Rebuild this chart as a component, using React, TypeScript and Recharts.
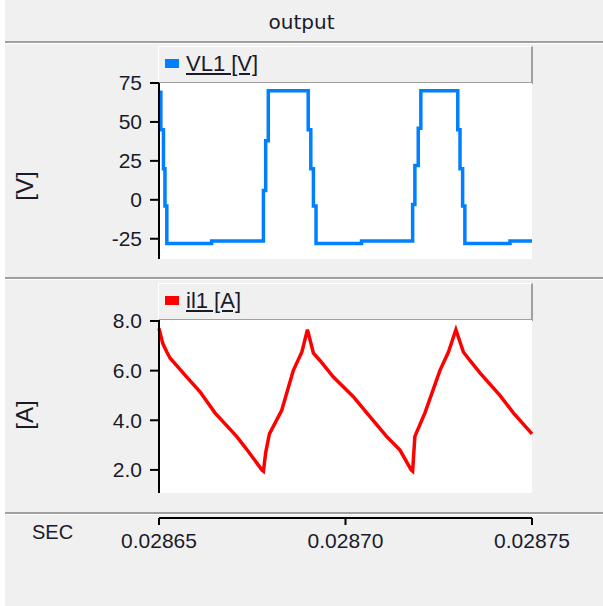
import { CartesianGrid, Line, LineChart, XAxis, YAxis } from "recharts"

// time in microseconds (label shows seconds)
const vlTime = [
  28650.0, 28650.5, 28651.2, 28651.6, 28652.1, 28664.1, 28678.0, 28678.6, 28679.3, 28690.0, 28690.7, 28691.4,
  28692.1, 28704.3, 28718.0, 28718.6, 28719.5, 28720.2, 28730.1, 28730.7, 28731.4, 28732.0, 28744.1, 28750.0,
]
const vlValue = [69, 45, 20, -4, -28, -26.5, 6, 38, 70, 45, 20, -4, -28, -26.5, -3, 22, 46, 70, 45, 20, -4, -28, -26.5, -26.5]

const ilTime = [
  28650.0, 28651.0, 28652.1, 28653.0, 28657.4, 28661.0, 28665.0, 28670.8, 28673.9, 28677.6, 28678.0, 28678.6,
  28679.6, 28682.9, 28686.0, 28688.3, 28689.8, 28691.4, 28693.2, 28696.7, 28702.1, 28705.7, 28711.0, 28714.6,
  28717.6, 28718.0, 28718.6, 28721.3, 28725.3, 28727.6, 28729.6, 28731.6, 28733.4, 28736.1, 28741.4, 28745.0,
  28750.0,
]
const ilValue = [
  7.7, 7.1, 6.75, 6.5, 5.75, 5.15, 4.3, 3.35, 2.75, 2.0, 1.95, 2.7, 3.45, 4.4, 6.0, 6.75, 7.65, 6.7, 6.4, 5.75,
  4.95, 4.3, 3.35, 2.8, 2.0, 1.95, 3.35, 4.3, 6.0, 6.75, 7.65, 6.75, 6.4, 5.9, 5.0, 4.3, 3.45,
]

const xTicks = [28650, 28700, 28750]
const vTicks = [-25, 0, 25, 50, 75]
const aTicks = [2, 4, 6, 8]

const vlData = vlTime.map((t, i) => ({ t, v: vlValue[i] }))
const ilData = ilTime.map((t, i) => ({ t, v: ilValue[i] }))

const FONT = "'Liberation Sans', Arial, sans-serif"
const tickStyle = { fontFamily: FONT, fontSize: 21, fill: "#1a1a2a" }
const fmtTime = (v: number) => (v / 1e6).toFixed(5)

function Separator({ top }: { top: number }) {
  return (
    <div style={{ position: "absolute", left: 5, right: 0, top, height: 2, background: "#a0a0a0", borderBottom: "1px solid #fff" }} />
  )
}

function LegendBox({ top, color, label }: { top: number; color: string; label: string }) {
  return (
    <div
      style={{
        position: "absolute",
        left: 158,
        top,
        width: 372,
        height: 35,
        background: "#f0f0f0",
        borderTop: "1px solid #fff",
        borderLeft: "1px solid #fff",
        borderRight: "2px solid #a0a0a0",
        borderBottom: "2px solid #a0a0a0",
      }}
    >
      <div style={{ position: "absolute", left: 6, top: 12, width: 14, height: 9, background: color }} />
      <div
        style={{
          position: "absolute",
          left: 27,
          top: 4,
          fontFamily: FONT,
          fontSize: 22,
          lineHeight: "26px",
          color: "#1a1a2a",
          textDecoration: "underline",
        }}
      >
        {label}
      </div>
    </div>
  )
}

function SideLabel({ top, text }: { top: number; text: string }) {
  return (
    <div
      style={{
        position: "absolute",
        left: 25,
        top,
        transform: "translate(-50%, -50%) rotate(-90deg)",
        fontFamily: FONT,
        fontSize: 24,
        color: "#1a1a2a",
        whiteSpace: "nowrap",
      }}
    >
      {text}
    </div>
  )
}

export default function App() {
  return (
    <div style={{ position: "absolute", left: 0, top: 0, width: 603, height: 606, background: "#fff" }}>
      <div style={{ position: "absolute", left: 5, top: 0, right: 0, bottom: 0, background: "#f0f0f0" }} />
      <div
        style={{
          position: "absolute",
          left: 0,
          width: 603,
          top: 10,
          textAlign: "center",
          fontFamily: "'DejaVu Sans', sans-serif",
          fontSize: 20,
          color: "#1a1a2a",
        }}
      >
        output
      </div>
      <Separator top={41} />
      <Separator top={277} />
      <Separator top={512} />

      <LegendBox top={46} color="#0080ff" label="VL1 [V]" />
      <LegendBox top={283} color="#ff0000" label="il1 [A]" />
      <SideLabel top={186} text="[V]" />
      <SideLabel top={415} text="[A]" />

      <div style={{ position: "absolute", left: 0, top: 60 }}>
        <LineChart width={560} height={215} data={vlData} margin={{ top: 23, right: 28, bottom: 16, left: 0 }}>
          <CartesianGrid fill="#ffffff" horizontal={false} vertical={false} />
          <XAxis dataKey="t" type="number" domain={[28650, 28750]} hide />
          <YAxis
            type="number"
            domain={[-38, 75]}
            ticks={vTicks}
            width={159}
            tickSize={9}
            tickMargin={8}
            tick={tickStyle}
            axisLine={{ stroke: "#000", strokeWidth: 2 }}
            tickLine={{ stroke: "#000", strokeWidth: 2 }}
          />
          <Line type="stepAfter" dataKey="v" stroke="#0080ff" strokeWidth={3.5} dot={false} isAnimationActive={false} />
        </LineChart>
      </div>

      <div style={{ position: "absolute", left: 0, top: 300 }}>
        <LineChart width={560} height={215} data={ilData} margin={{ top: 20, right: 28, bottom: 22, left: 0 }}>
          <CartesianGrid fill="#ffffff" horizontal={false} vertical={false} />
          <XAxis dataKey="t" type="number" domain={[28650, 28750]} hide />
          <YAxis
            type="number"
            domain={[1.07, 8.04]}
            ticks={aTicks}
            tickFormatter={(v: number) => v.toFixed(1)}
            width={159}
            tickSize={9}
            tickMargin={8}
            tick={tickStyle}
            axisLine={{ stroke: "#000", strokeWidth: 2 }}
            tickLine={{ stroke: "#000", strokeWidth: 2 }}
          />
          <Line type="linear" dataKey="v" stroke="#ff0000" strokeWidth={3.5} dot={false} isAnimationActive={false} />
        </LineChart>
      </div>

      <div style={{ position: "absolute", left: 0, top: 500 }}>
        <LineChart width={603} height={61} data={ilData} margin={{ top: 17, right: 71, bottom: 0, left: 159 }}>
          <XAxis
            dataKey="t"
            type="number"
            domain={[28650, 28750]}
            ticks={xTicks}
            tickFormatter={fmtTime}
            height={43}
            tickSize={7}
            tickMargin={8}
            tick={tickStyle}
            axisLine={{ stroke: "#000", strokeWidth: 2 }}
            tickLine={{ stroke: "#000", strokeWidth: 2 }}
          />
          <YAxis hide domain={[0, 1]} />
        </LineChart>
      </div>
      <div style={{ position: "absolute", left: 32, top: 521, fontFamily: FONT, fontSize: 20, color: "#1a1a2a" }}>SEC</div>
    </div>
  )
}
